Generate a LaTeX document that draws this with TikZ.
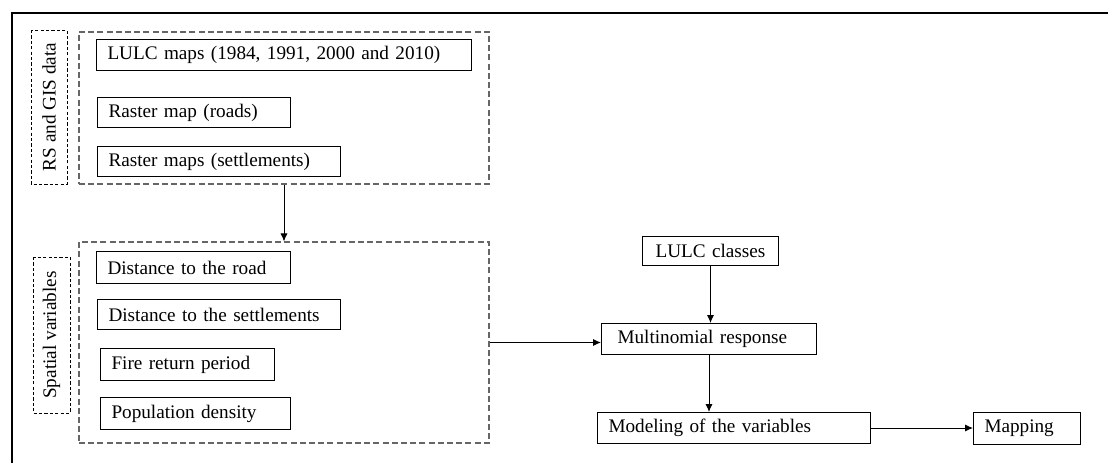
\documentclass[tikz,border=0pt]{standalone}
\usepackage{fontspec}
\setmainfont{Liberation Serif}
\usetikzlibrary{arrows.meta}

\begin{document}
\begin{tikzpicture}[x=0.5pt,y=-0.5pt,
  every node/.style={font=\fontsize{9.6}{11}\selectfont},
  box/.style={draw,line width=0.5pt,anchor=north west,inner xsep=5.5pt,inner ysep=0pt,align=left},
  grp/.style={draw=black!60,line width=0.6pt,dash pattern=on 3pt off 1.6pt},
  lbl/.style={draw,line width=0.5pt,dash pattern=on 1.6pt off 1.1pt,rotate=90,inner sep=0pt},
  arr/.style={line width=0.5pt,-{Latex[length=4pt,width=3.6pt]}}]
\useasboundingbox (0,0) rectangle (1108,463);
\draw[line width=0.6pt] (12,463) -- (12,13) -- (1108,13);

% RS and GIS data
\node[lbl,minimum width=77pt,minimum height=18pt] (rslbl) at (49,107) {RS and GIS data};
\node[grp,minimum width=205pt,minimum height=76pt] (rsgis) at (284,108) {};
\node[box,text width=176.5pt,minimum height=15.5pt] (lulcmaps) at (96,39) {LULC maps (1984, 1991, 2000 and 2010)};
\node[box,text width=85.5pt,minimum height=15pt] (roads) at (97,97) {Raster map (roads)};
\node[box,text width=110.5pt,minimum height=15pt] (settl) at (97,146) {Raster maps (settlements)};

% spatial variables
\node[lbl,minimum width=78pt,minimum height=18.5pt] (splbl) at (51.5,335) {Spatial variables};
\node[grp,minimum width=205pt,minimum height=100.5pt] (spatial) at (284,342.5) {};
\node[box,text width=86pt,minimum height=16pt] (droad) at (96,251) {Distance to the road};
\node[box,text width=110.5pt,minimum height=15pt] (dsettl) at (97,299) {Distance to the settlements};
\node[box,text width=76pt,minimum height=16pt] (fire) at (100,348) {Fire return period};
\node[box,text width=84pt,minimum height=16pt] (popd) at (100,397) {Population density};

% model
\node[box,text width=57pt,minimum height=14.5pt,align=center] (lulccls) at (642,236) {LULC classes};
\node[box,minimum height=15.5pt,inner xsep=8pt,text width=91.5pt] (multi) at (601,323) {Multinomial response};
\node[box,text width=125.5pt,minimum height=15.5pt] (model) at (597,412) {Modeling of the variables};
\node[box,text width=42.5pt,minimum height=16pt] (mapping) at (973,412) {Mapping};

\draw[arr] (rsgis) -- (spatial);
\draw[arr] (spatial.east) -- (spatial.east -| multi.west);
\draw[arr] (lulccls.south) -- (lulccls.south |- multi.north);
\draw[arr] (multi.south) -- (multi.south |- model.north);
\draw[arr] (model.east) -- (model.east -| mapping.west);
\end{tikzpicture}
\end{document}
